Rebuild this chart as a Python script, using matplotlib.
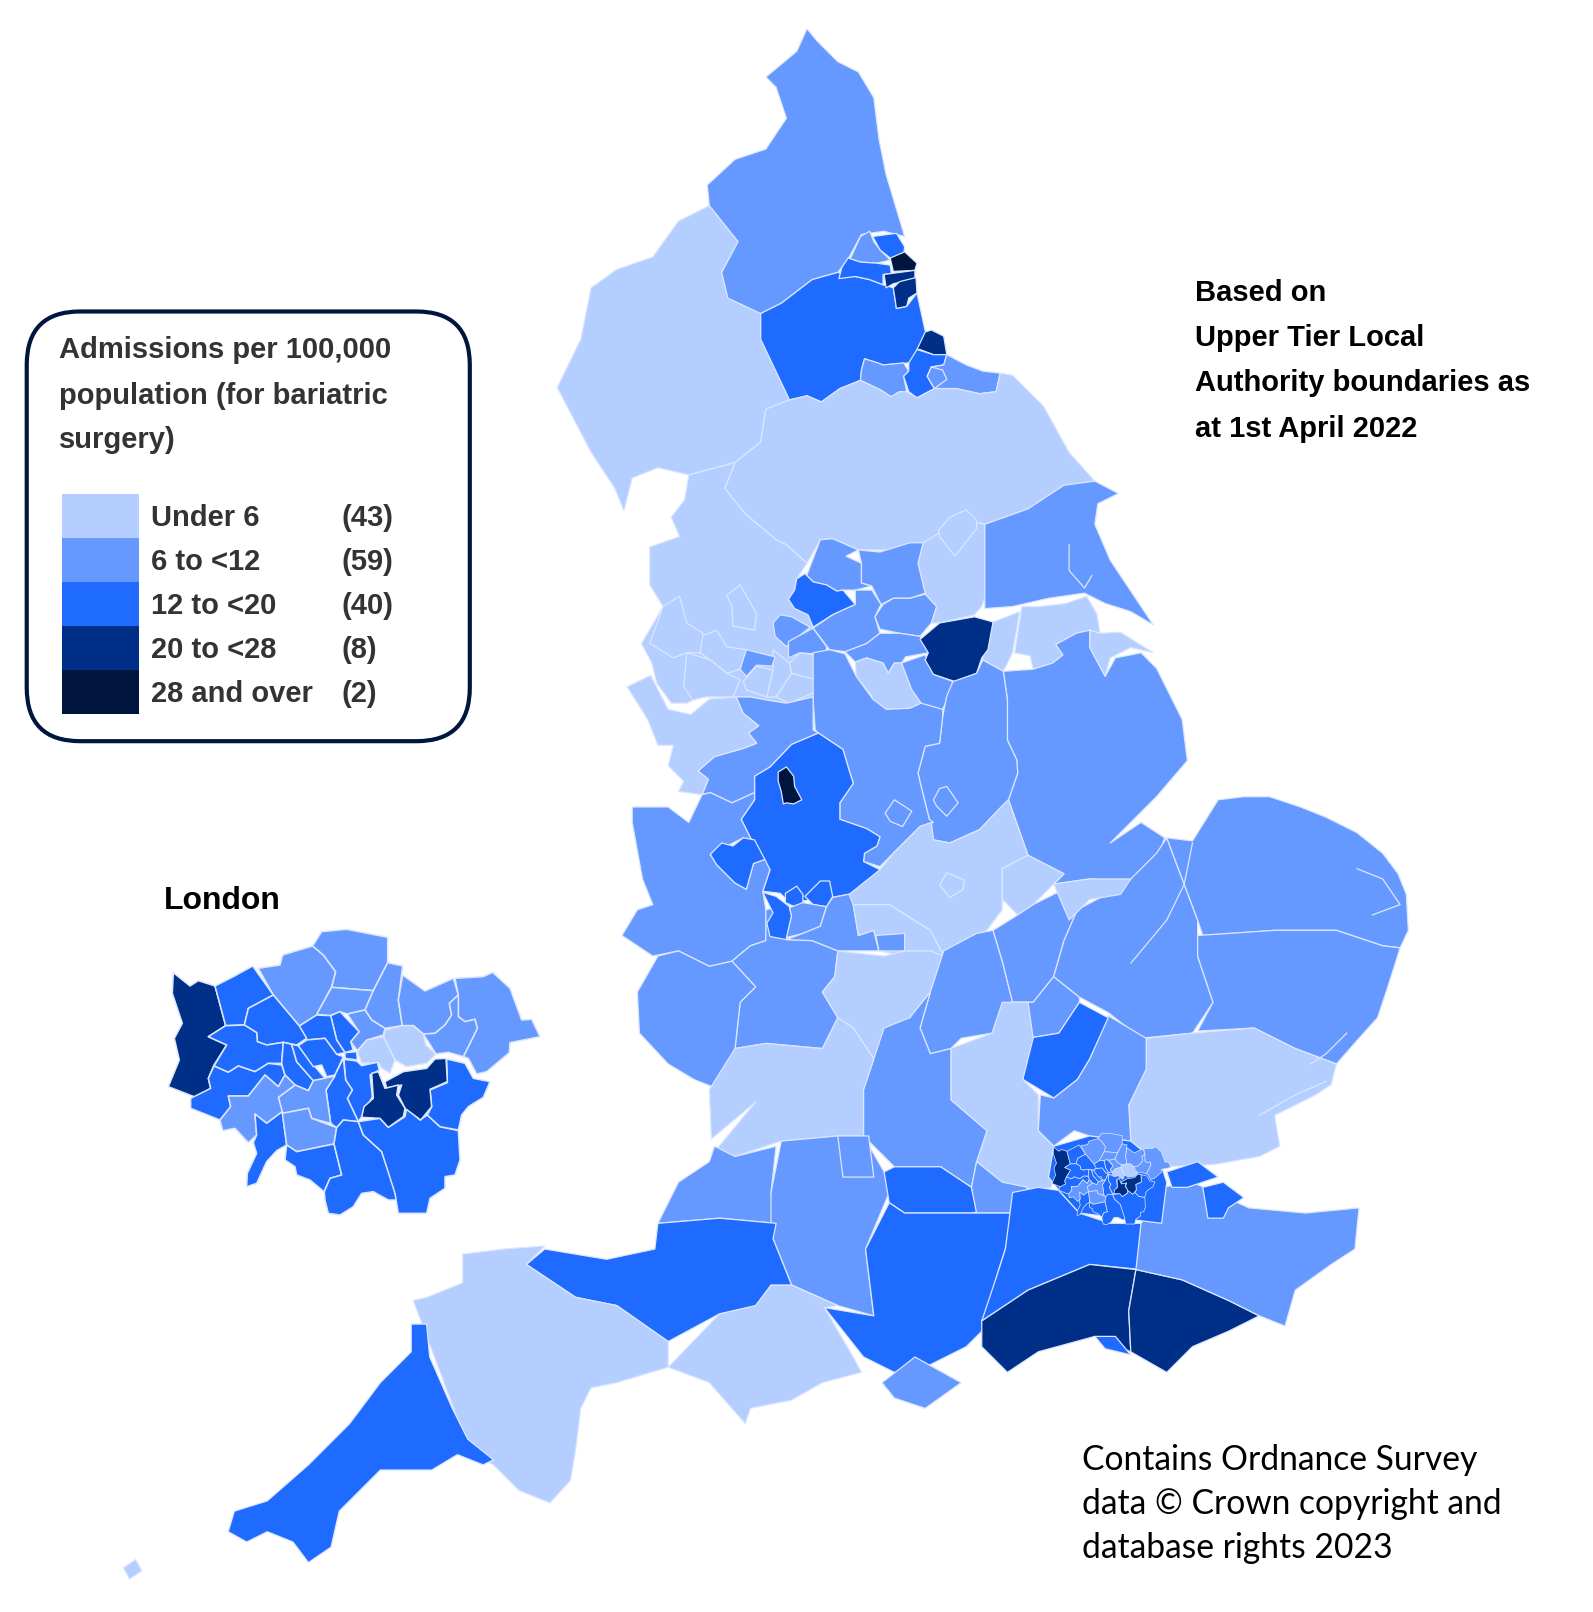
import matplotlib
matplotlib.use("Agg")
import matplotlib.pyplot as plt
from matplotlib.patches import FancyBboxPatch, Rectangle

plt.rcParams['font.family'] = ['Liberation Sans', 'DejaVu Sans']

# Picture units: the map outlines were traced at this scale
SCALE = 1.028
WIDTH, HEIGHT = 1593, 1612

band_colors = ["#B3CEFF", "#6699FF", "#1F6BFF", "#002F87", "#00163F"]
band_labels = ["Under 6", "6 to <12", "12 to <20", "20 to <28", "28 and over"]
band_counts = ["(43)", "(59)", "(40)", "(8)", "(2)"]
legend_title = ["Admissions per 100,000", "population (for bariatric", "surgery)"]
note_lines = ["Based on", "Upper Tier Local", "Authority boundaries as", "at 1st April 2022"]
copyright_lines = ["Contains Ordnance Survey", "data © Crown copyright and", "database rights 2023"]

# Outlines of the local authorities, north to south
cumbria = [(690,200),(718,235),(702,265),(708,290),(740,305),(740,330),(770,390),(745,398),(740,430),(715,450),(670,462),(640,455),(615,465),(607,497),(598,475),(575,440),(542,377),(565,330),(575,280),(600,262),(635,250),(660,215)]
northumberland = [(785,28),(795,40),(815,60),(835,70),(850,95),(855,135),(862,170),(880,230),(860,225),(838,228),(825,252),(815,265),(790,272),(760,295),(740,305),(708,290),(702,265),(718,235),(690,200),(688,180),(715,155),(745,145),(765,115),(755,85),(745,75),(775,50)]
durham = [(740,305),(760,295),(790,272),(815,265),(832,269),(846,272),(859,277),(869,280),(872,300),(882,298),(892,285),(900,322),(906,325),(895,342),(884,353),(859,355),(841,349),(838,360),(837,370),(817,378),(799,391),(785,385),(768,389),(740,330)]
tyne_a = [(828,250),(837,230),(846,225),(850,235),(856,243),(866,253),(853,256),(837,255),(825,251)]
tyne_b = [(849,230),(872,227),(880,240),(879,248),(866,251),(856,243)]
sunderland = [(866,251),(880,245),(892,256),(890,263),(869,264)]
gateshead = [(825,251),(837,255),(853,256),(866,258),(867,266),(859,267),(859,277),(846,272),(832,269),(816,271),(819,260)]
tyne_c = [(860,267),(890,263),(890,271),(869,276),(862,280)]
hartlepool = [(869,280),(875,274),(891,270),(892,285),(884,290),(882,298),(872,300)]
darlington = [(838,360),(841,349),(854,353),(859,355),(879,353),(884,361),(879,366),(882,381),(875,381),(867,386),(856,379),(837,370)]
middlesbrough = [(892,340),(900,323),(906,321),(918,327),(921,345),(908,345),(895,340)]
stockton = [(884,353),(892,340),(908,345),(921,345),(918,355),(906,357),(902,366),(909,378),(892,387),(884,381),(879,366),(884,361)]
redcar = [(921,345),(940,355),(956,361),(973,363),(969,381),(953,383),(930,378),(909,378),(902,366),(906,357),(918,355)]
redcar_inner = [(902,366),(906,357),(917,360),(921,369),(909,378)]
north_yorks = [(740,430),(745,398),(768,389),(785,385),(799,391),(817,378),(837,370),(856,379),(867,386),(875,381),(882,381),(892,387),(909,378),(930,378),(953,383),(969,381),(973,363),(985,365),(1015,395),(1040,440),(1065,468),(1035,472),(1000,495),(958,510),(935,505),(905,530),(870,535),(835,535),(810,524),(798,525),(785,548),(765,530),(755,525),(725,500),(705,475),(715,450)]
selby = [(898,528),(935,505),(958,510),(958,582),(955,590),(948,598),(914,606),(906,606),(911,590),(900,578),(893,548)]
york = [(913,516),(924,503),(940,496),(950,506),(950,514),(929,541),(914,522)]
east_riding = [(958,510),(1000,495),(1035,472),(1065,468),(1088,480),(1068,490),(1065,510),(1080,545),(1100,575),(1122,608),(1100,595),(1075,587),(1055,577),(1020,582),(985,590),(958,592)]
north_lincs = [(956,638),(966,605),(992,595),(985,635),(976,653),(956,642)]
ne_lincs = [(994,590),(1011,590),(1037,587),(1057,580),(1067,597),(1070,616),(1060,613),(1047,616),(1027,627),(1034,637),(1024,645),(1005,651),(1002,638),(987,635)]
ne_lincs_coast = [(1070,616),(1090,615),(1122,635),(1100,630),(1080,640),(1075,658),(1060,630),(1060,613)]
lincolnshire = [(1024,645),(1034,637),(1027,627),(1047,616),(1060,613),(1060,630),(1075,658),(1085,640),(1110,635),(1125,650),(1150,700),(1155,740),(1125,775),(1105,795),(1080,820),(1110,800),(1133,815),(1120,850),(1095,857),(1060,855),(1025,860),(1035,850),(1000,832),(981,778),(990,752),(989,739),(980,720),(980,681),(976,653),(1005,651)]
lancashire = [(670,462),(666,486),(653,503),(661,522),(632,532),(632,569),(645,590),(624,626),(634,645),(639,665),(653,684),(668,684),(681,678),(713,678),(730,678),(746,681),(765,684),(791,678),(791,611),(786,598),(773,592),(767,583),(773,574),(775,563),(785,548),(765,530),(755,525),(725,500),(705,475),(715,450)]
lancs_a = [(707,579),(720,569),(736,597),(734,613),(713,609),(712,590)]
lancs_b = [(682,619),(697,613),(707,629),(726,632),(720,651),(707,655),(691,642),(681,635)]
lancs_c = [(632,626),(645,590),(661,580),(668,606),(684,616),(681,635),(668,635),(655,640),(642,632)]
lancs_d = [(723,663),(736,648),(752,652),(746,678),(726,671)]
lancs_e = [(752,632),(768,645),(770,655),(755,678),(746,678),(752,652)]
lancs_f = [(768,645),(778,635),(798,638),(791,661),(770,655)]
lancs_g = [(755,678),(770,655),(793,661),(791,674),(768,684)]
lancs_h = [(668,635),(691,642),(707,655),(720,661),(713,678),(687,678),(674,681),(665,668)]
bolton = [(726,632),(754,639),(751,648),(736,647),(726,658),(720,651)]
rochdale = [(752,606),(759,598),(770,600),(788,610),(765,629),(754,619)]
oldham = [(767,624),(791,611),(804,629),(804,637),(778,635),(767,640)]
bradford = [(775,563),(783,558),(791,566),(804,569),(814,575),(820,574),(832,588),(810,598),(791,610),(786,598),(773,592),(767,583),(773,574)]
craven = [(785,559),(798,525),(810,524),(835,535),(823,541),(838,548),(838,567),(848,570),(832,574),(820,574),(814,575),(804,569),(791,566),(783,558)]
leeds = [(835,535),(856,537),(885,528),(898,528),(893,548),(900,577),(885,582),(869,582),(857,588),(848,570),(838,567),(838,548)]
wakefield = [(859,588),(869,582),(885,582),(900,578),(911,590),(906,606),(895,619),(875,616),(856,612),(851,600)]
calderdale = [(832,574),(848,574),(857,588),(851,600),(856,616),(843,626),(823,634),(807,632),(791,611),(810,598),(832,588)]
barnsley = [(822,634),(843,626),(856,616),(875,616),(895,619),(903,635),(881,639),(877,645),(870,645),(864,655),(859,645),(843,640),(832,644)]
sheffield = [(832,644),(843,640),(859,645),(864,655),(870,645),(877,645),(887,671),(896,684),(885,689),(862,690),(849,687),(848,677),(833,658)]
rotherham = [(877,645),(900,637),(908,656),(927,663),(921,681),(917,690),(903,690),(896,684),(887,671)]
doncaster = [(895,622),(914,606),(948,600),(966,605),(961,632),(955,640),(950,655),(929,663),(908,656),(900,642),(903,635)]
notts = [(927,663),(950,655),(956,642),(976,653),(980,681),(980,720),(989,739),(990,752),(981,778),(971,788),(953,807),(924,820),(908,817),(904,797),(896,765),(893,752),(900,726),(914,723),(917,697),(921,677)]
nottingham = [(908,778),(914,767),(921,765),(932,781),(921,794),(911,784)]
derbyshire = [(791,635),(807,632),(822,636),(833,658),(849,680),(862,690),(885,689),(896,684),(917,690),(917,697),(914,723),(900,726),(893,752),(896,765),(904,797),(908,800),(895,804),(869,830),(856,843),(840,838),(841,830),(853,823),(856,814),(843,806),(817,797),(817,781),(830,762),(825,746),(820,729),(796,713),(793,710),(791,681)]
derby = [(861,791),(870,778),(887,789),(878,804),(866,799)]
staffs = [(796,713),(820,729),(825,746),(830,762),(817,781),(817,797),(843,806),(856,814),(853,823),(841,830),(840,838),(856,846),(846,872),(825,870),(810,873),(768,878),(759,869),(742,867),(749,846),(734,823),(721,797),(734,778),(734,755),(749,746),(770,724)]
stoke = [(757,751),(765,746),(772,755),(773,765),(780,778),(772,782),(765,781),(762,782),(760,770),(757,760)]
telford = [(691,831),(702,820),(713,823),(723,815),(734,817),(744,836),(733,840),(726,865),(715,859),(697,841)]
cheshire_east = [(716,678),(730,678),(746,681),(765,684),(791,678),(791,710),(796,713),(770,724),(749,746),(734,755),(734,771),(712,781),(691,771),(683,773),(689,758),(679,750),(695,736),(723,728),(736,723),(728,713),(738,706),(723,694)]
cheshire_west = [(610,668),(633,657),(650,690),(672,695),(690,680),(716,678),(723,694),(738,706),(728,713),(736,723),(723,728),(695,736),(679,750),(689,758),(683,773),(660,770),(665,760),(650,745),(655,725),(640,725),(630,700)]
shropshire = [(615,785),(650,785),(670,800),(683,773),(691,771),(712,781),(734,771),(734,778),(721,797),(734,823),(723,815),(691,831),(697,841),(715,859),(726,865),(733,840),(744,836),(749,846),(742,867),(745,885),(745,915),(730,920),(712,935),(690,940),(660,925),(635,930),(605,910),(620,885),(635,880),(625,855),(615,800)]
worcs = [(745,885),(765,880),(765,914),(790,915),(815,925),(812,950),(800,965),(815,990),(800,1020),(745,1015),(715,1020),(720,975),(735,960),(712,935),(730,920),(745,915)]
hereford = [(712,935),(735,960),(720,975),(715,1020),(700,1060),(675,1050),(650,1035),(622,1005),(620,965),(640,930),(660,925),(690,940)]
dudley = [(755,872),(768,882),(770,891),(765,914),(749,911),(746,898),(752,888),(742,868)]
walsall = [(764,869),(775,862),(781,870),(781,878),(775,883),(764,878)]
birmingham = [(783,872),(798,857),(807,857),(810,872),(804,882),(791,880)]
solihull = [(768,883),(781,878),(804,882),(798,901),(781,908),(765,912),(770,891)]
warwicks = [(810,873),(825,870),(846,872),(830,880),(835,910),(850,905),(855,925),(815,925),(790,915),(765,914),(781,908),(798,901),(804,882)]
warwicks_east = [(852,910),(880,908),(880,925),(855,925)]
leics = [(826,870),(856,846),(869,830),(895,804),(906,800),(908,817),(924,820),(953,807),(971,788),(981,778),(1000,832),(975,845),(975,885),(960,905),(918,930),(905,905),(865,880),(840,885),(830,880)]
leics_strip = [(830,880),(865,880),(905,905),(918,930),(880,930),(855,925),(850,905),(835,910)]
leicester = [(914,861),(921,849),(938,856),(937,865),(924,873)]
rutland = [(975,845),(1000,832),(1035,850),(1005,880),(990,890),(975,875)]
peterborough = [(1025,860),(1060,855),(1100,855),(1090,870),(1060,875),(1040,895)]
gloucs_north = [(815,925),(860,930),(880,925),(905,925),(918,930),(905,965),(885,990),(860,1010),(850,1030),(830,1000),(815,990),(800,965),(812,950)]
northants = [(918,925),(950,908),(966,905),(975,935),(985,975),(965,1005),(935,1010),(925,1020),(905,1025),(895,1000),(905,965)]
beds_north = [(966,905),(990,890),(1005,880),(1035,865),(1048,885),(1035,915),(1025,950),(1005,975),(985,975),(975,935)]
beds_south = [(985,975),(1005,975),(1025,950),(1050,970),(1050,975),(1030,1005),(1000,1010)]
cambs = [(1048,885),(1095,860),(1125,830),(1135,815),(1165,895),(1165,930),(1180,975),(1160,1005),(1110,1010),(1078,985),(1050,970),(1025,950),(1035,915)]
norfolk = [(1135,815),(1160,818),(1185,778),(1210,775),(1235,775),(1265,785),(1290,795),(1320,810),(1345,830),(1360,850),(1368,870),(1370,905),(1362,922),(1345,920),(1300,905),(1240,905),(1170,910),(1165,895)]
suffolk = [(1165,910),(1240,905),(1300,905),(1345,920),(1362,922),(1350,960),(1340,990),(1322,1010),(1300,1035),(1260,1020),(1220,1000),(1165,1003),(1180,975),(1165,930)]
essex = [(1115,1010),(1160,1005),(1220,1000),(1260,1020),(1300,1035),(1295,1055),(1280,1065),(1240,1085),(1245,1115),(1225,1125),(1180,1133),(1130,1135),(1100,1110),(1098,1075),(1115,1040)]
herts = [(1078,988),(1115,1010),(1115,1040),(1098,1075),(1100,1110),(1060,1105),(1045,1100),(1025,1115),(1010,1100),(1012,1065),(1025,1068),(1048,1050),(1060,1030)]
luton = [(1050,975),(1078,990),(1060,1030),(1048,1050),(1025,1068),(995,1050),(1000,1010),(1030,1005)]
bucks = [(925,1020),(965,1005),(975,975),(1000,975),(1005,1010),(995,1050),(1010,1065),(1010,1100),(1025,1115),(1023,1155),(1000,1160),(990,1160),(975,1150),(950,1130),(960,1100),(925,1070)]
oxon = [(850,1030),(860,1000),(885,990),(905,965),(895,1000),(905,1025),(925,1020),(925,1070),(960,1100),(950,1130),(945,1155),(915,1135),(870,1135),(840,1105),(840,1060)]
gloucs = [(715,1020),(745,1015),(800,1020),(815,990),(830,1000),(850,1030),(840,1060),(840,1105),(815,1105),(760,1110),(715,1125),(697,1118),(735,1072),(692,1108),(690,1060)]
bristol = [(695,1115),(715,1125),(755,1115),(750,1160),(755,1190),(700,1185),(640,1190),(660,1150),(690,1130)]
wilts = [(760,1110),(815,1105),(840,1105),(860,1140),(865,1160),(842,1215),(850,1280),(815,1270),(770,1250),(750,1200),(750,1160)]
swindon = [(815,1105),(845,1105),(850,1145),(820,1145)]
berks = [(860,1140),(870,1135),(915,1135),(945,1155),(950,1175),(965,1170),(970,1175),(945,1180),(880,1180),(865,1170)]
windsor = [(945,1155),(950,1130),(975,1150),(1000,1155),(985,1180),(950,1180)]
hants = [(865,1170),(880,1180),(945,1180),(985,1180),(978,1215),(970,1240),(955,1295),(940,1310),(900,1330),(870,1335),(840,1320),(802,1272),(850,1280),(842,1215)]
surrey = [(985,1160),(1010,1155),(1030,1158),(1050,1180),(1080,1190),(1110,1190),(1110,1235),(1060,1230),(1000,1255),(955,1285),(970,1240),(978,1215)]
west_sussex = [(955,1285),(1000,1255),(1060,1230),(1105,1235),(1098,1275),(1100,1315),(1065,1300),(1010,1315),(980,1335),(955,1310)]
east_sussex = [(1105,1235),(1150,1245),(1195,1265),(1225,1280),(1195,1295),(1160,1310),(1135,1335),(1100,1315),(1098,1275)]
brighton = [(1065,1300),(1085,1300),(1100,1318),(1075,1312)]
kent = [(1110,1190),(1130,1155),(1160,1150),(1215,1175),(1270,1180),(1322,1175),(1318,1215),(1295,1230),(1260,1255),(1250,1290),(1225,1280),(1195,1265),(1150,1245),(1105,1235)]
medway = [(1170,1155),(1190,1150),(1210,1165),(1195,1175),(1190,1185),(1175,1185)]
thurrock = [(1135,1140),(1165,1130),(1185,1145),(1155,1155),(1140,1155)]
wight = [(858,1345),(890,1320),(935,1345),(900,1370),(870,1360)]
dorset = [(650,1330),(700,1278),(735,1270),(750,1250),(770,1250),(815,1270),(802,1272),(830,1320),(838,1335),(800,1345),(770,1362),(730,1370),(725,1385),(690,1345)]
somerset = [(512,1230),(530,1215),(590,1225),(637,1215),(640,1190),(700,1185),(755,1190),(752,1205),(770,1250),(750,1250),(735,1270),(700,1278),(650,1305),(600,1270),(560,1262)]
devon = [(402,1265),(415,1262),(450,1248),(450,1220),(490,1215),(530,1212),(512,1230),(560,1262),(600,1270),(650,1305),(650,1330),(600,1345),(575,1350),(565,1370),(560,1410),(555,1440),(535,1462),(505,1450),(480,1425),(460,1415),(445,1380),(415,1300)]
cornwall = [(400,1288),(415,1288),(418,1320),(440,1370),(455,1400),(480,1420),(470,1425),(445,1415),(420,1430),(370,1430),(350,1450),(330,1470),(322,1505),(300,1520),(285,1500),(260,1490),(240,1500),(222,1490),(228,1470),(260,1460),(300,1425),(320,1405),(340,1385),(370,1345),(400,1315)]
scilly = [(120,1525),(132,1517),(138,1528),(126,1536)]
london_back = [(1025,1115),(1060,1105),(1100,1110),(1130,1135),(1135,1150),(1130,1190),(1050,1180),(1030,1158),(1020,1145)]

mainland = [
    (0, cumbria), (1, northumberland), (2, durham), (1, tyne_a), (2, tyne_b), (4, sunderland),
    (2, gateshead), (3, tyne_c), (3, hartlepool), (1, darlington), (3, middlesbrough), (2, stockton),
    (1, redcar), (1, redcar_inner), (0, north_yorks), (0, selby), (0, york), (1, east_riding),
    (0, north_lincs), (0, ne_lincs), (0, ne_lincs_coast), (1, lincolnshire), (0, lancashire),
    (0, lancs_a), (0, lancs_b), (0, lancs_c), (0, lancs_d), (0, lancs_e), (0, lancs_f), (0, lancs_g),
    (0, lancs_h), (1, bolton), (1, rochdale), (1, oldham), (1, craven), (2, bradford), (1, leeds),
    (1, wakefield), (1, calderdale), (1, barnsley), (0, sheffield), (1, rotherham), (3, doncaster),
    (1, notts), (1, nottingham), (1, derbyshire), (1, derby), (2, staffs), (4, stoke), (1, cheshire_east),
    (0, cheshire_west), (1, shropshire), (2, telford), (1, worcs), (1, hereford), (2, dudley), (2, walsall),
    (2, birmingham), (1, solihull), (1, warwicks), (0, leics), (0, leics_strip), (1, warwicks_east),
    (0, leicester), (0, rutland), (0, gloucs_north), (1, northants), (1, beds_north), (1, beds_south),
    (1, cambs), (0, peterborough), (1, norfolk), (1, suffolk), (0, essex), (1, herts), (2, luton), (0, bucks),
    (1, oxon), (0, gloucs), (1, bristol), (1, wilts), (1, swindon), (2, berks), (1, windsor), (2, hants),
    (2, surrey), (3, west_sussex), (3, east_sussex), (2, brighton), (1, kent), (2, medway), (2, thurrock),
    (1, wight), (0, dorset), (2, somerset), (0, devon), (2, cornwall), (0, scilly), (2, london_back),
]

# Inner boundaries and tidal creeks, drawn as plain lines
fen_line = [(1100,937),(1135,895),(1152,860),(1160,820)]
hull_line = [(1040,530),(1040,555),(1055,572),(1062,560)]
broads_line = [(1320,845),(1345,855),(1362,880),(1335,890)]
orwell_line = [(1310,1005),(1290,1025),(1275,1035)]
blackwater_line = [(1225,1085),(1260,1065),(1290,1052)]
creek_lines = [fen_line, hull_line, broads_line, orwell_line, blackwater_line]

# London boroughs, traced for the enlarged inset
hillingdon = [(100,338),(150,378),(175,362),(225,378),(257,497),(205,530),(260,555),(222,615),(205,655),(212,685),(170,713),(85,680),(118,600),(103,535),(127,490),(97,400)]
harrow = [(225,378),(280,350),(338,318),(400,405),(325,445),(313,495),(257,497)]
barnet = [(355,325),(420,315),(428,285),(518,258),(550,285),(587,335),(575,380),(530,465),(478,498),(400,405)]
enfield = [(518,258),(545,215),(620,208),(743,232),(743,308),(700,392),(575,382),(587,335),(550,285)]
haringey = [(575,382),(700,392),(675,450),(622,462),(600,455),(570,467),(530,463)]
waltham = [(743,308),(788,318),(775,420),(787,497),(735,505),(695,480),(675,450),(700,392)]
redbridge = [(788,345),(855,393),(940,355),(955,405),(928,430),(935,465),(915,495),(885,520),(850,522),(820,497),(787,497),(775,420)]
havering = [(945,355),(1030,350),(1058,337),(1110,385),(1145,480),(1175,478),(1200,530),(1110,548),(1108,578),(1040,635),(1010,642),(985,595),(970,590),(1012,505),(1005,478),(975,485),(955,470),(955,405)]
barking = [(955,405),(955,470),(975,485),(1005,478),(1012,505),(970,590),(925,577),(888,582),(850,522),(885,520),(915,495),(935,465),(928,430)]
newham = [(735,510),(787,497),(820,497),(850,522),(858,555),(888,582),(860,610),(800,620),(765,600),(730,540)]
tower_hamlets = [(730,530),(765,600),(750,640),(725,625),(715,608),(665,610),(652,575),(680,540)]
hackney = [(622,462),(675,450),(695,480),(735,505),(730,525),(680,540),(652,572),(632,545),(657,515)]
islington = [(572,467),(600,455),(657,515),(632,545),(640,570),(615,578),(590,540)]
camden = [(478,498),(530,465),(572,467),(590,540),(615,578),(590,583),(555,535),(500,540)]
brent = [(400,405),(478,498),(500,535),(470,555),(430,547),(380,555),(352,545),(350,518),(313,495),(325,445)]
ealing = [(205,530),(257,497),(313,495),(350,518),(352,545),(380,555),(430,547),(425,610),(385,610),(345,635),(295,618),(265,637),(222,618),(260,555)]
hounslow = [(222,618),(265,637),(295,618),(345,635),(385,610),(425,615),(435,645),(415,680),(375,645),(325,708),(265,708),(272,740),(240,780),(152,745),(152,715),(212,685),(205,655)]
hammersmith = [(430,547),(455,553),(470,605),(520,662),(505,692),(465,675),(435,645),(425,610)]
kensington = [(455,553),(475,557),(525,620),(555,655),(520,662),(470,605)]
westminster = [(475,557),(500,540),(555,535),(590,583),(610,590),(585,645),(560,650),(545,615),(520,620)]
city = [(615,578),(650,575),(652,600),(615,595)]
southwark = [(612,598),(650,603),(665,617),(712,607),(718,630),(690,645),(697,710),(665,770),(655,785),(622,715),(637,690),(617,660)]
lambeth = [(610,595),(617,660),(637,690),(622,715),(655,785),(610,780),(590,803),(572,790),(558,690),(585,645)]
wandsworth = [(585,648),(558,690),(572,790),(515,775),(505,745),(427,760),(415,712),(465,675),(505,692),(520,662)]
richmond = [(375,645),(415,680),(435,645),(465,675),(415,712),(427,755),(380,790),(345,762),(350,825),(325,848),(285,805),(248,812),(240,780),(272,740),(265,708),(325,708)]
kingston = [(345,762),(380,790),(427,755),(440,855),(410,872),(380,905),(350,970),(320,980),(322,940),(350,880),(340,848),(350,825)]
merton = [(427,760),(505,745),(515,775),(590,803),(582,852),(470,875),(440,855)]
sutton = [(440,855),(470,875),(582,852),(605,945),(570,955),(552,995),(510,960),(470,945),(465,920),(435,900)]
croydon = [(590,803),(610,780),(655,785),(670,825),(725,875),(760,975),(770,1020),(745,1020),(700,995),(665,1000),(640,1040),(600,1065),(565,1060),(555,1020),(553,995),(570,955),(605,945),(582,852)]
bromley = [(655,785),(720,775),(745,802),(795,770),(800,745),(840,780),(862,765),(900,800),(955,812),(960,900),(945,945),(915,950),(915,985),(870,1015),(860,1060),(775,1060),(765,1000),(725,875),(670,825)]
bexley = [(920,597),(975,610),(1000,655),(1050,665),(1030,712),(985,740),(965,765),(955,810),(900,800),(862,765),(875,740),(870,690),(922,668)]
greenwich = [(735,665),(790,635),(860,625),(885,597),(918,595),(922,665),(870,688),(875,740),(842,780),(795,745),(775,705),(785,675),(740,685)]
lewisham = [(695,640),(715,635),(735,685),(775,675),(770,705),(795,745),(790,770),(745,802),(720,775),(665,772),(672,740),(700,715)]

boroughs = [
    (3, hillingdon), (2, harrow), (1, barnet), (1, enfield), (1, haringey), (1, waltham), (1, redbridge),
    (1, havering), (1, barking), (0, newham), (0, tower_hamlets), (1, hackney), (2, islington), (2, camden),
    (2, brent), (2, ealing), (2, hounslow), (2, hammersmith), (2, kensington), (2, westminster), (2, city),
    (2, southwark), (2, lambeth), (1, wandsworth), (1, richmond), (2, kingston), (1, merton), (2, sutton),
    (2, croydon), (2, bromley), (2, bexley), (3, greenwich), (3, lewisham),
]


def inset_xy(outline):
    # Inset tracing sits on a 3x enlargement of the picture
    return [((140 + x / 3) / SCALE, (860 + y / 3) / SCALE) for x, y in outline]


def on_map_xy(outline):
    # Same boroughs at their true place on the England map
    return [((1052 + (x - 85) * 0.1067) / SCALE, (1147 + (y - 338) * 0.1067) / SCALE) for x, y in outline]


def draw_region(ax, outline, band, lw=0.9):
    xs, ys = zip(*outline)
    ax.fill(xs, ys, facecolor=band_colors[band], edgecolor="#DCE7FF", linewidth=lw, joinstyle="round")


def main():
    fig = plt.figure(figsize=(WIDTH / 100, HEIGHT / 100), dpi=100)
    ax = fig.add_axes([0, 0, 1, 1])
    ax.set_xlim(0, WIDTH / SCALE)
    ax.set_ylim(HEIGHT / SCALE, 0)
    ax.axis("off")

    for band, outline in mainland:
        draw_region(ax, outline, band)
    for line in creek_lines:
        xs, ys = zip(*line)
        ax.plot(xs, ys, color="#DCE7FF", linewidth=0.9)
    for band, outline in boroughs:
        draw_region(ax, on_map_xy(outline), band, lw=0.5)
        draw_region(ax, inset_xy(outline), band, lw=1.1)

    # Legend box
    box = FancyBboxPatch((26, 303), 431, 418, boxstyle="round,pad=0,rounding_size=52",
                         facecolor="white", edgecolor=band_colors[4], linewidth=3)
    ax.add_patch(box)
    for y, line in zip([340.5, 385, 428], legend_title):
        ax.text(57, y, line, fontsize=21, fontweight="bold", color="#333333", va="center")

    swatch_h = 42.7
    for i, (color, label, count) in enumerate(zip(band_colors, band_labels, band_counts)):
        top = 481 + i * swatch_h
        ax.add_patch(Rectangle((60, top), 75, swatch_h, facecolor=color, edgecolor="none"))
        ax.text(147, top + swatch_h / 2 + 2, label, fontsize=21, fontweight="bold", color="#333333", va="center")
        ax.text(332, top + swatch_h / 2 + 2, count, fontsize=21, fontweight="bold", color="#333333", va="center")

    for y, line in zip([285, 329, 373, 417], note_lines):
        ax.text(1162, y, line, fontsize=21, fontweight="bold", color="black", va="center")
    ax.text(159, 876, "London", fontsize=23, fontweight="bold", color="black", va="center")

    for y, line in zip([1420, 1463, 1506], copyright_lines):
        ax.text(1053, y, line, fontsize=24.2, family=["Lato", "DejaVu Sans"], color="black", va="center")

    fig.savefig("out.png", dpi=100)


if __name__ == "__main__":
    main()
